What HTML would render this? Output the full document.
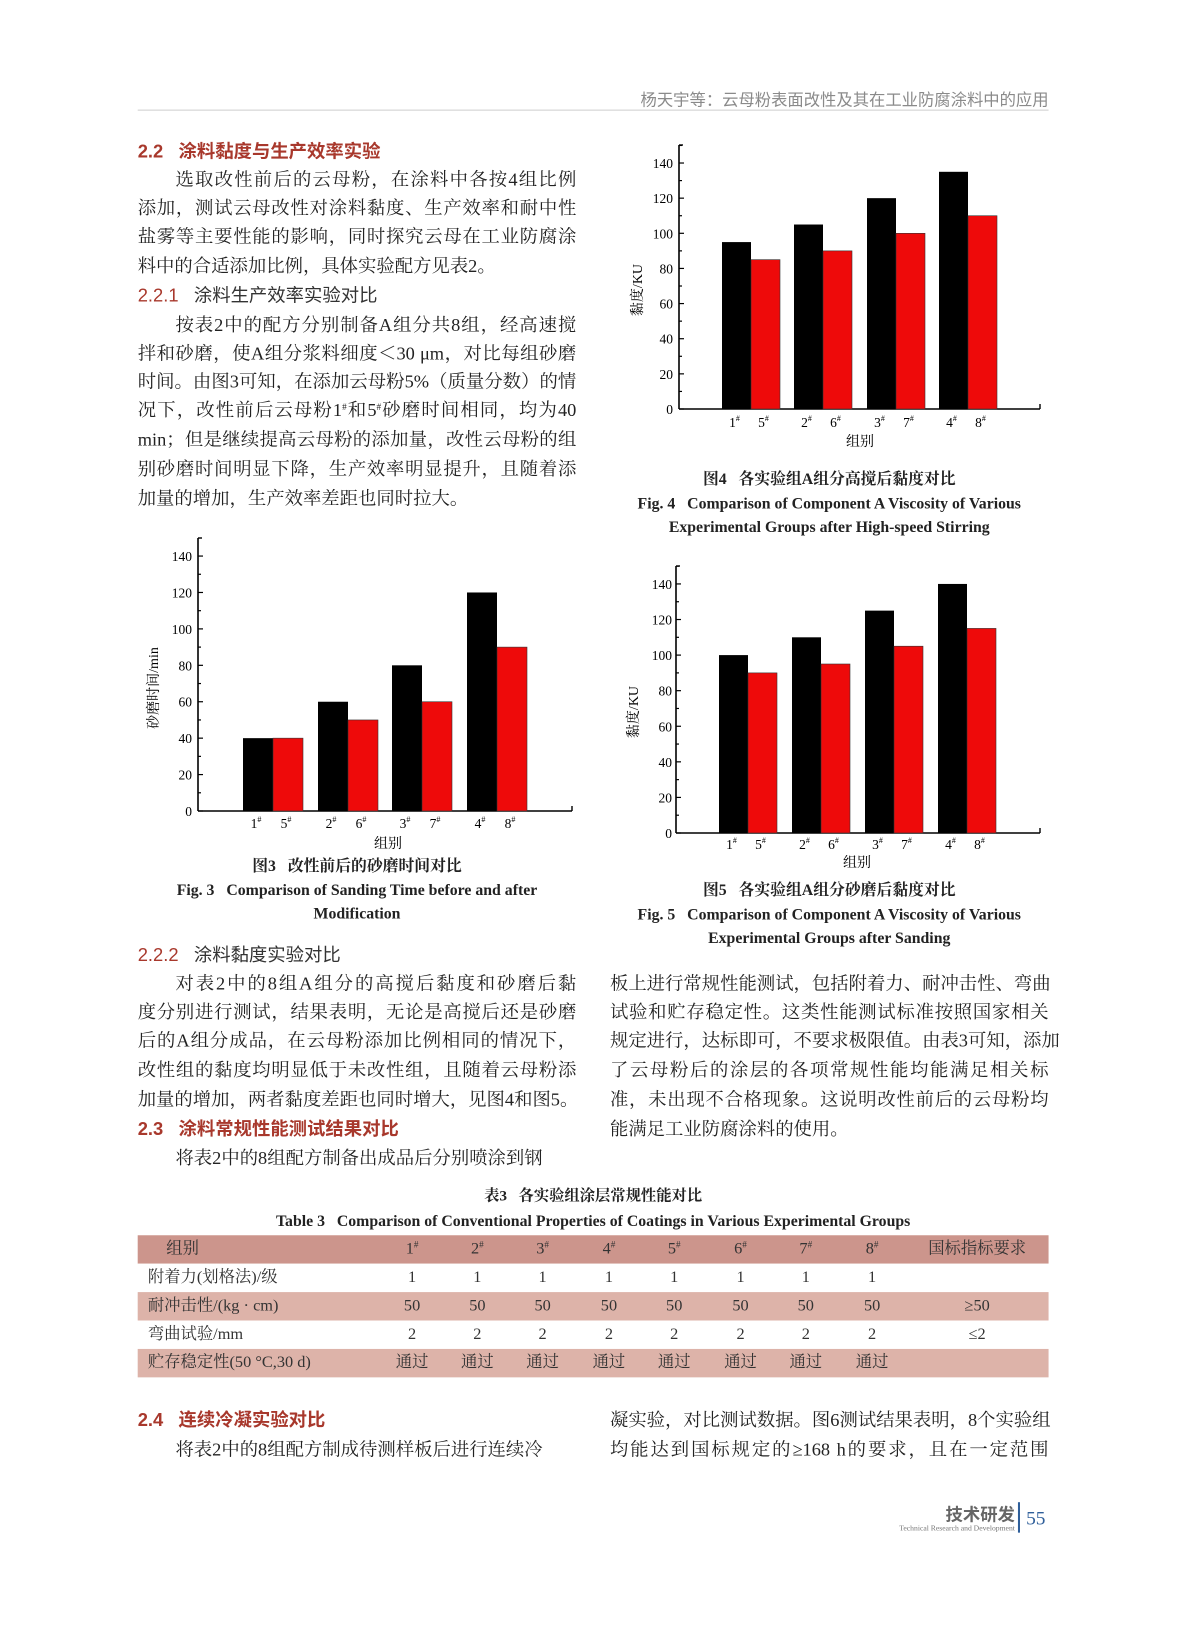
<!DOCTYPE html>
<html><head><meta charset="utf-8">
<style>
html,body{margin:0;padding:0;background:#fff;}
body{width:1187px;height:1600px;position:relative;overflow:hidden;}
#pg{position:absolute;left:0;top:0;width:1187px;height:1600px;transform-origin:0 0;transform:scale(1.02,1.015) translate(0,4px);}
.l{position:absolute;width:430px;font-family:"Liberation Serif","Noto Serif CJK SC",serif;font-size:18px;line-height:24px;height:24px;color:#222;text-align:justify;text-align-last:justify;white-space:nowrap;}
.e{text-align-last:left;}
.L{left:135px}.R{left:598px}
.h{position:absolute;font-family:"Liberation Sans","Noto Sans CJK SC",sans-serif;font-size:18px;line-height:24px;color:#a8382c;font-weight:bold;white-space:nowrap;}
.h2{position:absolute;font-family:"Liberation Sans","Noto Sans CJK SC",sans-serif;font-size:18px;line-height:24px;color:#333;white-space:nowrap;}
.h2 b{color:#a8382c;font-weight:normal;}
.cap{position:absolute;text-align:center;font-family:"Liberation Serif","Noto Serif CJK SC",serif;font-weight:bold;font-size:15.5px;line-height:22px;color:#222;white-space:nowrap;}
.tr{position:absolute;left:135px;width:893px;height:28px;font-family:"Liberation Serif","Noto Serif CJK SC",serif;font-size:16px;line-height:28px;color:#333;}
.tr span{position:absolute;top:0;transform:translateX(-50%);white-space:nowrap;}
.tr span.f{transform:none;}
sup{font-size:9px;vertical-align:6px;line-height:0;}
</style></head><body>
<svg id="ch" width="1187" height="1600" style="position:absolute;left:0;top:0" xmlns="http://www.w3.org/2000/svg"></svg>
<div id="pg">
<div style="position:absolute;right:159px;top:81px;font-family:'Liberation Sans','Noto Sans CJK SC',sans-serif;font-size:16px;color:#8a8a8a;white-space:nowrap;">杨天宇等：云母粉表面改性及其在工业防腐涂料中的应用</div>
<div style="position:absolute;left:135px;top:104px;width:893px;height:1px;background:#cfcfcf"></div>

<div class="h" style="left:135px;top:133px">2.2&nbsp;&nbsp;&nbsp;涂料黏度与生产效率实验</div>
<div class="l L" style="top:161px;padding-left:37px;width:393px">选取改性前后的云母粉，在涂料中各按4组比例</div>
<div class="l L" style="top:189px">添加，测试云母改性对涂料黏度、生产效率和耐中性</div>
<div class="l L" style="top:217px">盐雾等主要性能的影响，同时探究云母在工业防腐涂</div>
<div class="l L e" style="top:246px">料中的合适添加比例，具体实验配方见表2。</div>
<div class="h2" style="left:135px;top:275px"><b>2.2.1</b>&nbsp;&nbsp;&nbsp;涂料生产效率实验对比</div>
<div class="l L" style="top:304px;padding-left:37px;width:393px">按表2中的配方分别制备A组分共8组，经高速搅</div>
<div class="l L" style="top:332px">拌和砂磨，使A组分浆料细度＜30 μm，对比每组砂磨</div>
<div class="l L" style="top:360px">时间。由图3可知，在添加云母粉5%（质量分数）的情</div>
<div class="l L" style="top:388px">况下，改性前后云母粉1<sup>#</sup>和5<sup>#</sup>砂磨时间相同，均为40</div>
<div class="l L" style="top:417px">min；但是继续提高云母粉的添加量，改性云母粉的组</div>
<div class="l L" style="top:446px">别砂磨时间明显下降，生产效率明显提升，且随着添</div>
<div class="l L e" style="top:475px">加量的增加，生产效率差距也同时拉大。</div>

<div class="cap" style="left:598px;width:430px;top:458px">图4&nbsp;&nbsp;&nbsp;各实验组A组分高搅后黏度对比</div>
<div class="cap" style="left:598px;width:430px;top:482px">Fig. 4&nbsp;&nbsp;&nbsp;Comparison of Component A Viscosity of Various</div>
<div class="cap" style="left:598px;width:430px;top:505px">Experimental Groups after High-speed Stirring</div>

<div class="cap" style="left:135px;width:430px;top:839px">图3&nbsp;&nbsp;&nbsp;改性前后的砂磨时间对比</div>
<div class="cap" style="left:135px;width:430px;top:863px">Fig. 3&nbsp;&nbsp;&nbsp;Comparison of Sanding Time before and after</div>
<div class="cap" style="left:135px;width:430px;top:886px">Modification</div>

<div class="cap" style="left:598px;width:430px;top:863px">图5&nbsp;&nbsp;&nbsp;各实验组A组分砂磨后黏度对比</div>
<div class="cap" style="left:598px;width:430px;top:887px">Fig. 5&nbsp;&nbsp;&nbsp;Comparison of Component A Viscosity of Various</div>
<div class="cap" style="left:598px;width:430px;top:910px">Experimental Groups after Sanding</div>

<div class="h2" style="left:135px;top:925px"><b>2.2.2</b>&nbsp;&nbsp;&nbsp;涂料黏度实验对比</div>
<div class="l L" style="top:953px;padding-left:37px;width:393px">对表2中的8组A组分的高搅后黏度和砂磨后黏</div>
<div class="l L" style="top:981px">度分别进行测试，结果表明，无论是高搅后还是砂磨</div>
<div class="l L" style="top:1009px">后的A组分成品，在云母粉添加比例相同的情况下，</div>
<div class="l L" style="top:1038px">改性组的黏度均明显低于未改性组，且随着云母粉添</div>
<div class="l L e" style="top:1067px">加量的增加，两者黏度差距也同时增大，见图4和图5。</div>
<div class="h" style="left:135px;top:1096px">2.3&nbsp;&nbsp;&nbsp;涂料常规性能测试结果对比</div>
<div class="l L e" style="top:1125px;padding-left:37px;width:393px">将表2中的8组配方制备出成品后分别喷涂到钢</div>

<div class="l R" style="top:953px">板上进行常规性能测试，包括附着力、耐冲击性、弯曲</div>
<div class="l R" style="top:981px">试验和贮存稳定性。这类性能测试标准按照国家相关</div>
<div class="l R" style="top:1009px">规定进行，达标即可，不要求极限值。由表3可知，添加</div>
<div class="l R" style="top:1038px">了云母粉后的涂层的各项常规性能均能满足相关标</div>
<div class="l R" style="top:1067px">准，未出现不合格现象。这说明改性前后的云母粉均</div>
<div class="l R e" style="top:1096px">能满足工业防腐涂料的使用。</div>

<div class="cap" style="left:135px;width:893px;top:1164px;font-size:15px">表3&nbsp;&nbsp;&nbsp;各实验组涂层常规性能对比</div>
<div class="cap" style="left:135px;width:893px;top:1189px;font-size:15.5px">Table 3&nbsp;&nbsp;&nbsp;Comparison of Conventional Properties of Coatings in Various Experimental Groups</div>

<div id="tbl"></div>

<div class="h" style="left:135px;top:1383px">2.4&nbsp;&nbsp;&nbsp;连续冷凝实验对比</div>
<div class="l L e" style="top:1412px;padding-left:37px;width:393px">将表2中的8组配方制成待测样板后进行连续冷</div>
<div class="l R" style="top:1383px">凝实验，对比测试数据。图6测试结果表明，8个实验组</div>
<div class="l R" style="top:1412px">均能达到国标规定的≥168 h的要求，且在一定范围</div>

<div style="position:absolute;right:192px;top:1474px;font-family:'Liberation Sans','Noto Sans CJK SC',sans-serif;font-weight:bold;font-size:17px;color:#666;white-space:nowrap;">技术研发</div>
<div style="position:absolute;right:192px;top:1497px;font-family:'Liberation Serif',serif;font-size:7.5px;color:#777;white-space:nowrap;">Technical Research and Development</div>
<div style="position:absolute;left:998px;top:1476px;width:2px;height:30px;background:#2f5f9a"></div>
<div style="position:absolute;left:1006px;top:1482px;font-family:'Liberation Serif',serif;font-size:19px;color:#2f5f9a;">55</div>
</div>
<script>
(function(){
 var rows=[
  ["组别","1<sup>#</sup>","2<sup>#</sup>","3<sup>#</sup>","4<sup>#</sup>","5<sup>#</sup>","6<sup>#</sup>","7<sup>#</sup>","8<sup>#</sup>","国标指标要求"],
  ["附着力(划格法)/级","1","1","1","1","1","1","1","1",""],
  ["耐冲击性/(kg · cm)","50","50","50","50","50","50","50","50","≥50"],
  ["弯曲试验/mm","2","2","2","2","2","2","2","2","≤2"],
  ["贮存稳定性(50 °C,30 d)","通过","通过","通过","通过","通过","通过","通过","通过",""]];
 var bg=["#cc958c","#fff","#ddb3a9","#fff","#ddb3a9"];
 var tops=[1213,1241,1269,1297,1325];
 var cx=[0,269,333,397,462,526,591,655,720,823];
 var h="";
 for(var i=0;i<5;i++){
  h+='<div class="tr" style="top:'+tops[i]+'px;background:'+bg[i]+'">';
  h+='<span class="f" style="left:'+(i==0?28:10)+'px">'+rows[i][0]+'</span>';
  for(var j=1;j<10;j++)h+='<span style="left:'+cx[j]+'px">'+rows[i][j]+'</span>';
  h+='</div>';
 }
 document.getElementById('tbl').innerHTML=h;
})();
(function(){
 var svg=document.getElementById('ch'),s='';
 var F='font-family="Liberation Serif,Noto Serif CJK SC,serif"';
 function chart(c){
  var k=c.s;
  s+='<line x1="'+c.x0+'" y1="'+c.top+'" x2="'+c.x0+'" y2="'+c.y0+'" stroke="#000" stroke-width="1.6"/>';
  s+='<line x1="'+c.x0+'" y1="'+c.y0+'" x2="'+c.right+'" y2="'+c.y0+'" stroke="#000" stroke-width="1.6"/>';
  s+='<line x1="'+c.right+'" y1="'+c.y0+'" x2="'+c.right+'" y2="'+(c.y0-5)+'" stroke="#000" stroke-width="1.4"/>';
  s+='<line x1="'+c.x0+'" y1="'+c.top+'" x2="'+(c.x0+4)+'" y2="'+c.top+'" stroke="#000" stroke-width="1.4"/>';
  for(var v=0;v<=150;v+=10){
   var y=c.y0-v*k; if(y<c.top)break;
   s+='<line x1="'+c.x0+'" y1="'+y+'" x2="'+(c.x0+(v%20?3:5))+'" y2="'+y+'" stroke="#000" stroke-width="1.2"/>';
   if(v%20==0)s+='<text x="'+c.lx+'" y="'+(y+5)+'" text-anchor="end" font-size="13.5" '+F+'>'+v+'</text>';
  }
  var lb=[["1","5"],["2","6"],["3","7"],["4","8"]];
  for(var g=0;g<4;g++){
   var x=c.bx[g],w=c.w;
   s+='<rect x="'+x+'" y="'+(c.y0-c.b[g]*k)+'" width="'+w+'" height="'+(c.b[g]*k)+'" fill="#000"/>';
   s+='<rect x="'+(x+w)+'" y="'+(c.y0-c.r[g]*k)+'" width="'+w+'" height="'+(c.r[g]*k)+'" fill="#ee0a0a" stroke="#333" stroke-width="0.6"/>';
   s+='<text x="'+(x+w/2-2)+'" y="'+(c.ly+5)+'" text-anchor="middle" font-size="13.5" '+F+'>'+lb[g][0]+'<tspan font-size="8" dy="-6">#</tspan></text>';
   s+='<text x="'+(x+w*1.5-2)+'" y="'+(c.ly+5)+'" text-anchor="middle" font-size="13.5" '+F+'>'+lb[g][1]+'<tspan font-size="8" dy="-6">#</tspan></text>';
  }
  s+='<text x="'+c.gx+'" y="'+(c.gy+5)+'" text-anchor="middle" font-size="14" '+F+'>组别</text>';
  s+='<text transform="translate('+(c.yx+5)+','+c.yy+') rotate(-90)" text-anchor="middle" font-size="14" '+F+'>'+c.yl+'</text>';
 }
 chart({x0:198,y0:811,top:538,right:572,s:1.821,lx:192,bx:[243,318,392,467],w:30,b:[40,60,80,120],r:[40,50,60,90],ly:823,gx:388,gy:843,yx:153,yy:688,yl:"砂磨时间/min"});
 chart({x0:679,y0:409,top:145,right:1040,s:1.757,lx:673,bx:[722,794,867,939],w:29,b:[95,105,120,135],r:[85,90,100,110],ly:422,gx:860,gy:441,yx:637,yy:290,yl:"黏度/KU"});
 chart({x0:676,y0:833,top:566,right:1040,s:1.779,lx:672,bx:[719,792,865,938],w:29,b:[100,110,125,140],r:[90,95,105,115],ly:844,gx:857,gy:862,yx:633,yy:712,yl:"黏度/KU"});
 svg.innerHTML=s;
})();
</script>
</body></html>
